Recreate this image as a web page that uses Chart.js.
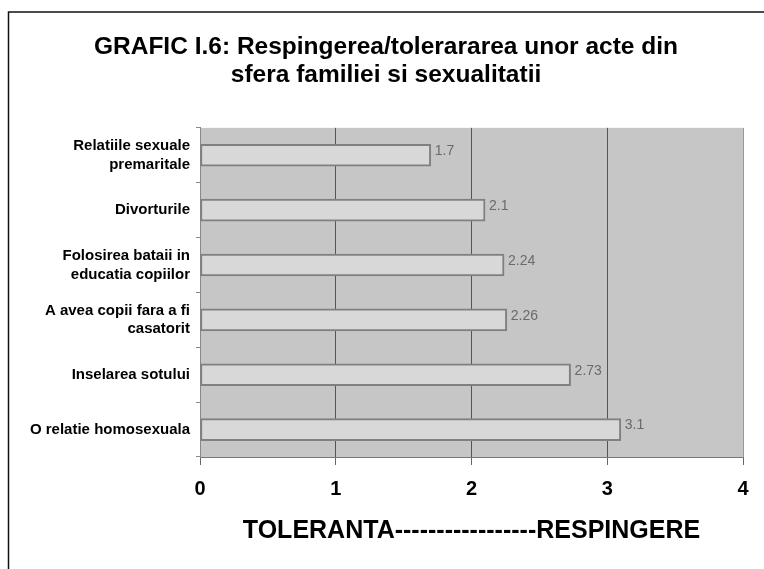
<!DOCTYPE html>
<html>
<head>
<meta charset="utf-8">
<script src="https://cdn.jsdelivr.net/npm/chart.js@4"></script>
<style>
  html, body { margin: 0; padding: 0; background: #fff; }
  #wrap { width: 764px; height: 569px; }
</style>
</head>
<body>
<div id="wrap"><canvas id="chart" width="764" height="569"></canvas></div>
<script>
// categories (top to bottom) and mean scores
const categories = [
    ['Relatiile sexuale', 'premaritale'],
    'Divorturile',
    ['Folosirea bataii in', 'educatia copiilor'],
    ['A avea copii fara a fi', 'casatorit'],
    'Inselarea sotului',
    'O relatie homosexuala'
];
const scores = [1.7, 2.1, 2.24, 2.26, 2.73, 3.1];
const scoreLabels = ['1.7', '2.1', '2.24', '2.26', '2.73', '3.1'];
const xTicks = [0, 1, 2, 3, 4];

const titleLines = [
    'GRAFIC I.6: Respingerea/tolerararea unor acte din',
    'sfera familiei si sexualitatii'
];
const axisTitle = 'TOLERANTA-----------------RESPINGERE';

const FONT = '"Liberation Sans", Arial, sans-serif';

// gray plot background + outer frame
const framePlugin = {
    id: 'frame',
    beforeDraw(chart) {
        const { ctx, chartArea: a } = chart;
        ctx.save();
        ctx.fillStyle = '#fff';
        ctx.fillRect(0, 0, chart.width, chart.height);
        ctx.fillStyle = '#c6c6c6';
        ctx.fillRect(a.left, a.top, a.right - a.left, a.bottom - a.top);
        ctx.strokeStyle = '#111';
        ctx.lineWidth = 1.5;
        ctx.beginPath();
        ctx.moveTo(8.5, chart.height);
        ctx.lineTo(8.5, 12);
        ctx.lineTo(chart.width, 12);
        ctx.stroke();
        ctx.restore();
    }
};

// value labels at bar ends
const valuePlugin = {
    id: 'values',
    afterDatasetsDraw(chart) {
        const { ctx } = chart;
        const meta = chart.getDatasetMeta(0);
        ctx.save();
        ctx.font = '14px ' + FONT;
        ctx.fillStyle = '#6a6a6a';
        ctx.textBaseline = 'middle';
        meta.data.forEach((bar, i) => {
            ctx.fillText(scoreLabels[i], bar.x + 4, bar.y - 4);
        });
        ctx.restore();
    }
};

new Chart(document.getElementById('chart'), {
    type: 'bar',
    data: {
        labels: categories,
        datasets: [{
            data: scores,
            backgroundColor: '#d8d8d8',
            borderColor: '#808080',
            borderWidth: 2,
            borderSkipped: false,
            barThickness: 22
        }]
    },
    options: {
        indexAxis: 'y',
        responsive: false,
        animation: false,
        layout: { padding: { top: 20, right: 21, bottom: 23, left: 29 } },
        plugins: {
            legend: { display: false },
            tooltip: { enabled: false },
            title: {
                display: true,
                text: titleLines,
                color: '#000',
                font: { family: FONT, size: 24.5, weight: 'bold', lineHeight: 1.14 },
                padding: { top: 13, bottom: 39 }
            }
        },
        scales: {
            x: {
                min: 0,
                max: 4,
                afterBuildTicks(scale) {
                    scale.ticks = xTicks.map(v => ({ value: v }));
                },
                grid: {
                    color: (c) => (c.tick && c.tick.value > 0 && c.tick.value < 4) ? '#555' : '#999',
                    lineWidth: 1,
                    tickLength: 8,
                    tickColor: '#666'
                },
                border: { color: '#777', width: 1 },
                ticks: {
                    color: '#000',
                    padding: 12,
                    font: { family: FONT, size: 20, weight: 'bold' }
                },
                title: {
                    display: true,
                    text: axisTitle,
                    color: '#000',
                    font: { family: FONT, size: 25, weight: 'bold' },
                    padding: { top: 3, bottom: 0 }
                }
            },
            y: {
                afterFit(scale) { scale.width = 171; },
                grid: {
                    drawOnChartArea: false,
                    tickLength: 4,
                    tickColor: '#888'
                },
                border: { color: '#888', width: 1 },
                ticks: {
                    color: '#000',
                    padding: 6,
                    font: { family: FONT, size: 15, weight: 'bold', lineHeight: 1.25 }
                }
            }
        }
    },
    plugins: [framePlugin, valuePlugin]
});
</script>
</body>
</html>
